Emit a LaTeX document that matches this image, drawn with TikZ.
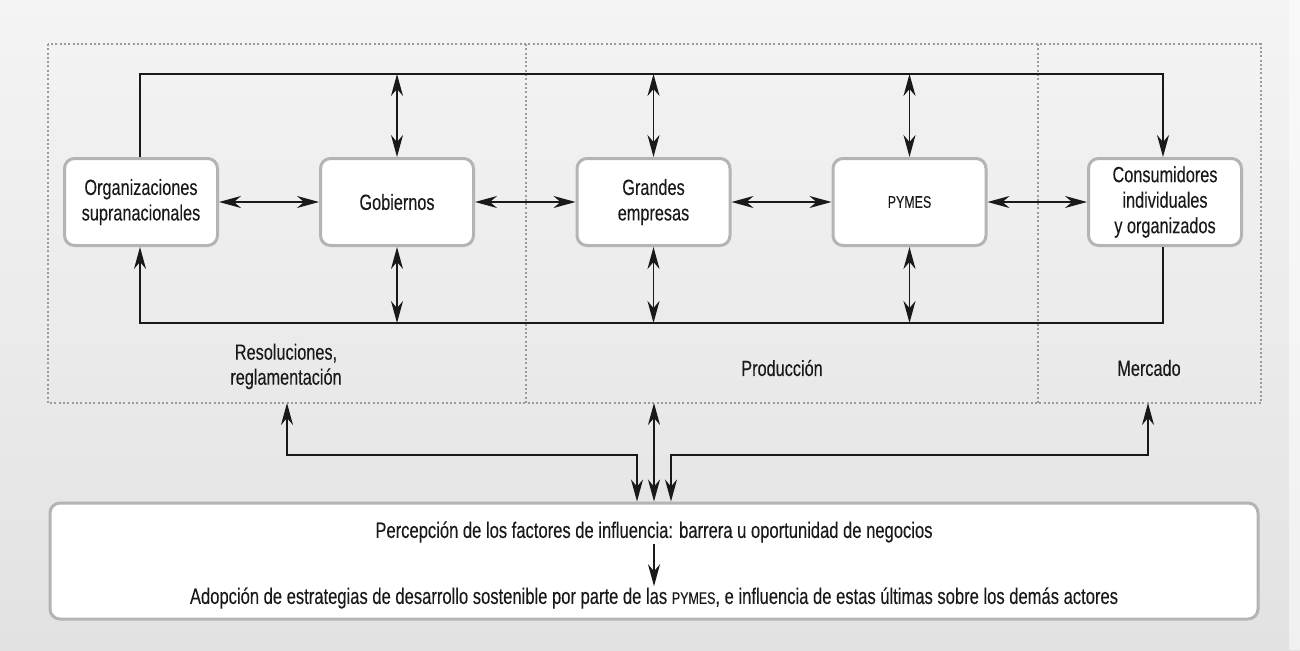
\documentclass[tikz,border=0pt]{standalone}
\usepackage{fontspec}
\setmainfont{Liberation Sans}[FakeStretch=0.74,FakeBold=0.15]
\usetikzlibrary{arrows.meta,calc}
\definecolor{bgtop}{RGB}{244,244,244}
\definecolor{bgbot}{RGB}{226,226,226}
\definecolor{boxline}{RGB}{180,180,180}
\definecolor{dotline}{RGB}{155,155,155}
\definecolor{ink}{RGB}{25,25,25}
\newcommand{\pymesword}[1]{{\fontsize{#1}{#1}\selectfont PYMES}}
\begin{document}
\begin{tikzpicture}[x=1pt,y=-1pt,
  >={Stealth[length=22pt,width=12pt,inset=7pt]},
  actor/.style={draw=boxline, line width=3pt, fill=white, rounded corners=10pt,
    minimum width=153pt, minimum height=87pt, align=center, text=ink,
    font=\fontsize{22}{25.5}\selectfont, inner sep=2pt},
  bigbox/.style={draw=boxline, line width=3pt, fill=white, rounded corners=10pt,
    minimum width=1208pt, minimum height=116pt},
  conn/.style={draw=ink, line width=1.6pt},
  region/.style={draw=dotline, line width=2pt, dash pattern=on 2pt off 2.3pt},
  lbl/.style={align=center, text=ink, font=\fontsize{22}{25}\selectfont},
  btxt/.style={text=ink, font=\fontsize{22.4}{24}\selectfont, inner sep=1pt}
]
% background
\useasboundingbox (0,0) rectangle (1300,650);
\shade[top color=bgtop, bottom color=bgbot] (0,0) rectangle (1300,650);
\fill[white, opacity=0.5] (1289,0) rectangle (1300,650);

% regions
\draw[region] (48,44) rectangle (1261,403);
\draw[region] (526,44) -- (526,403);
\draw[region] (1038,44) -- (1038,403);

% actors
\node[actor] (org) at (141,202) {Organizaciones\\supranacionales};
\node[actor] (gob) at (397,202) {Gobiernos};
\node[actor] (gra) at (653.5,202) {Grandes\\empresas};
\node[actor] (pym) at (909.5,202) {\pymesword{16.8}};
\node[actor] (con) at (1165,202) {Consumidores\\individuales\\y organizados};

% rails
\coordinate (topL) at (140,74);
\coordinate (topR) at (1163,74);
\coordinate (botL) at (140,323);
\coordinate (botR) at (1163,323);
\draw[conn,->] (org.north -| topL) -- (topL) -- (topR) -- (con.north -| topR);
\draw[conn,->] (con.south -| botR) -- (botR) -- (botL) -- (org.south -| botL);

% vertical double arrows
\foreach \n in {gob,gra,pym}{
  \draw[conn,<->] (\n.north) -- (\n.north |- topL);
  \draw[conn,<->] (\n.south) -- (\n.south |- botL);
}
% horizontal double arrows
\draw[conn,<->] (org.east) -- (gob.west);
\draw[conn,<->] (gob.east) -- (gra.west);
\draw[conn,<->] (gra.east) -- (pym.west);
\draw[conn,<->] (pym.east) -- (con.west);

% region labels
\node[lbl] (res) at (286,366.5) {Resoluciones,\\reglamentación};
\node[lbl] (pro) at (782,368) {Producción};
\node[lbl] (mer) at (1149,368) {Mercado};

% bottom box
\node[bigbox] (bot) at (654,561) {};
\node[btxt] (t1) at (654,532) {Percepción de los factores de influencia: barrera u oportunidad de negocios};
\node[btxt] (t2) at (654,598) {Adopción de estrategias de desarrollo sostenible por parte de las \pymesword{16.8}, e influencia de estas últimas sobre los demás actores};
\draw[conn,->] (t1.south) -- (t2.north);

% links between regions and bottom box
\coordinate (resTop) at (287,403);
\coordinate (proTop) at (654,403);
\coordinate (merTop) at (1148,403);
\coordinate (lj) at (637,455);
\coordinate (rj) at (671,455);
\draw[conn,<->] (proTop) -- (bot.north);
\draw[conn,<->] (resTop) |- (lj) -- (lj |- bot.north);
\draw[conn,<->] (merTop) |- (rj) -- (rj |- bot.north);
\end{tikzpicture}
\end{document}
